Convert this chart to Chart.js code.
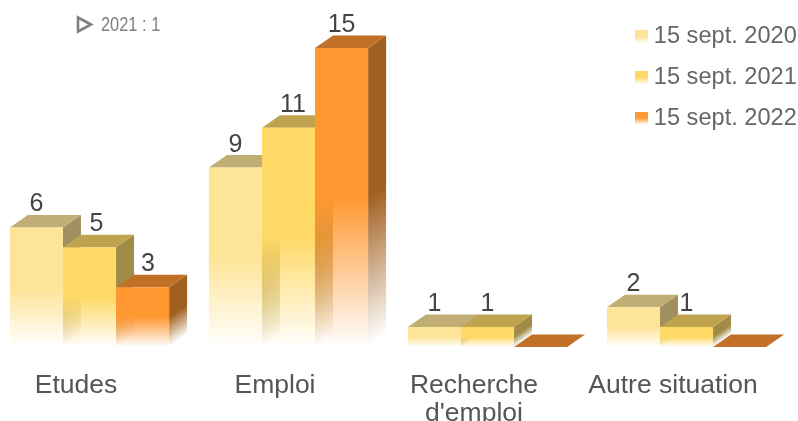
<!DOCTYPE html>
<html>
<head>
<meta charset="utf-8">
<style>
    html, body { margin: 0; padding: 0; background: #fff; overflow: hidden; }
    #wrap { position: relative; width: 798px; height: 421px; overflow: hidden; }
    /* canvas starts left of the page: first category slot is cut by the edge */
    #chartBox { position: absolute; left: -10px; top: 0; width: 808px; height: 421px; }
    #note { position: absolute; left: 101px; top: 13px; font: 20px "Liberation Sans", sans-serif; color: #808080; transform: scaleX(0.82); transform-origin: left top; }
    #noteMark { position: absolute; left: 76px; top: 15px; }
</style>
</head>
<body>
<div id="wrap">
    <div id="chartBox"><canvas id="statusChart"></canvas></div>
    <svg id="noteMark" width="18" height="20"><polygon points="2,2.5 15,9.5 2,16.5" fill="none" stroke="#808080" stroke-width="2.6"/></svg>
    <div id="note">2021 : 1</div>
</div>
<script src="https://cdn.jsdelivr.net/npm/chart.js@4/dist/chart.umd.min.js"></script>
<script>
const categories = ['Etudes', 'Emploi', ['Recherche', "d'emploi"], 'Autre situation'];
const seriesNames = ['15 sept. 2020', '15 sept. 2021', '15 sept. 2022'];
const values2020 = [6, 9, 1, 2];
const values2021 = [5, 11, 1, 1];
const values2022 = [3, 15, 0, 0];

// Face colours per series
const frontColors = ['254, 228, 150', '255, 217, 101', '255, 152, 49'];
const topColors = ['#c0ae75', '#c0a34f', '#c17028'];
const sideColors = ['160, 144, 96', '160, 140, 70', '160, 96, 32'];

// Depth of the extruded bars
const depthX = 18;
const depthY = 12.5;

// Small sideways moves of some value labels, per series
const labelShift = [[0, 0, 0, 0], [7, 4.5, 0, 0], [5.5, 0, 0, 0]];

function frontGradient(ctx, top, base, rgb) {
    const g = ctx.createLinearGradient(0, top, 0, base);
    g.addColorStop(0, 'rgba(' + rgb + ', 1)');
    g.addColorStop(0.5, 'rgba(' + rgb + ', 1)');
    g.addColorStop(1, 'rgba(' + rgb + ', 0)');
    return g;
}

// Side fade follows the slanted bottom edge of the side face
function sideGradient(ctx, right, top, base, rgb) {
    const t = (base - top) * depthX / (depthX * depthX + depthY * depthY);
    const g = ctx.createLinearGradient(right, top, right + t * depthY, top + t * depthX);
    g.addColorStop(0, 'rgba(' + rgb + ', 1)');
    g.addColorStop(0.5, 'rgba(' + rgb + ', 1)');
    g.addColorStop(1, 'rgba(' + rgb + ', 0)');
    return g;
}

function legendSwatch(rgb) {
    const c = document.createElement('canvas');
    c.width = 13;
    c.height = 13;
    const x = c.getContext('2d');
    x.fillStyle = frontGradient(x, 0, 13, rgb);
    x.fillRect(0, 0, 13, 13);
    return c;
}

function drawFaces(chart, meta, i) {
    const ctx = chart.ctx;
    meta.data.forEach(bar => {
        const halfW = bar.width / 2;
        const l = bar.x - halfW;
        const r = bar.x + halfW;
        const top = bar.y;
        const base = bar.base;
        if (top < base) {
            ctx.fillStyle = sideGradient(ctx, r, top, base, sideColors[i]);
            ctx.beginPath();
            ctx.moveTo(r, top);
            ctx.lineTo(r + depthX, top - depthY);
            ctx.lineTo(r + depthX, base - depthY);
            ctx.lineTo(r, base);
            ctx.closePath();
            ctx.fill();
        }
        ctx.fillStyle = topColors[i];
        ctx.beginPath();
        ctx.moveTo(l, top);
        ctx.lineTo(l + depthX, top - depthY);
        ctx.lineTo(r + depthX, top - depthY);
        ctx.lineTo(r, top);
        ctx.closePath();
        ctx.fill();
    });
}

// Chart.js paints the last dataset first, here the first series has to go first
const boxFaces = {
    id: 'boxFaces',
    beforeDatasetsDraw(chart) {
        chart.data.datasets.forEach((ds, i) => {
            const meta = chart.getDatasetMeta(i);
            drawFaces(chart, meta, i);
            meta.controller.draw();
        });
    },
    beforeDatasetDraw() {
        return false;
    },
    afterLayout(chart) {
        // Legend floats over the plot in the top right corner
        chart.legend.left = 634;
        chart.legend.right = 808;
        chart.legend.top = 8;
        chart.legend.bottom = 300;
    },
    afterDatasetsDraw(chart) {
        const ctx = chart.ctx;
        ctx.save();
        ctx.font = '25px "Liberation Sans", Arial, sans-serif';
        ctx.fillStyle = '#444';
        ctx.textAlign = 'center';
        ctx.textBaseline = 'alphabetic';
        chart.data.datasets.forEach((ds, i) => {
            chart.getDatasetMeta(i).data.forEach((bar, j) => {
                if (ds.data[j] > 0) {
                    ctx.fillText(ds.data[j], bar.x + labelShift[i][j], bar.y - 16);
                }
            });
        });
        ctx.restore();
    }
};

const seriesValues = [values2020, values2021, values2022];
const datasets = seriesNames.map((name, i) => ({
    label: name,
    data: seriesValues[i],
    borderWidth: 0,
    backgroundColor: function (c) {
        const yScale = c.chart.scales.y;
        if (!yScale || !c.parsed) {
            return 'rgb(' + frontColors[i] + ')';
        }
        return frontGradient(c.chart.ctx, yScale.getPixelForValue(c.parsed.y), yScale.getPixelForValue(0), frontColors[i]);
    }
}));

new Chart(document.getElementById('statusChart'), {
    type: 'bar',
    data: { labels: categories, datasets: datasets },
    plugins: [boxFaces],
    options: {
        responsive: true,
        maintainAspectRatio: false,
        animation: false,
        layout: { padding: { left: 0, right: 12, top: 28, bottom: 0 } },
        categoryPercentage: 0.8,
        barPercentage: 1,
        plugins: {
            title: { display: false },
            tooltip: { enabled: false },
            legend: {
                position: 'chartArea',
                align: 'start',
                labels: {
                    usePointStyle: true,
                    boxWidth: 1,
                    boxHeight: 13,
                    padding: 17,
                    font: { family: '"Liberation Sans", Arial, sans-serif', size: 23.6 },
                    generateLabels: function (chart) {
                        return chart.data.datasets.map((ds, i) => ({
                            text: ds.label,
                            datasetIndex: i,
                            lineWidth: 0,
                            fontColor: '#666',
                            pointStyle: legendSwatch(frontColors[i])
                        }));
                    }
                }
            }
        },
        scales: {
            x: {
                grid: { display: false },
                border: { display: false },
                afterFit: function (scale) { scale.height = 74; },
                ticks: {
                    autoSkip: false,
                    maxRotation: 0,
                    padding: 17,
                    labelOffset: -13.5,
                    color: '#555',
                    font: { family: '"Liberation Sans", Arial, sans-serif', size: 26.5, lineHeight: 1.06 }
                }
            },
            y: {
                display: false,
                min: 0,
                max: 16
            }
        }
    }
});
</script>
</body>
</html>
